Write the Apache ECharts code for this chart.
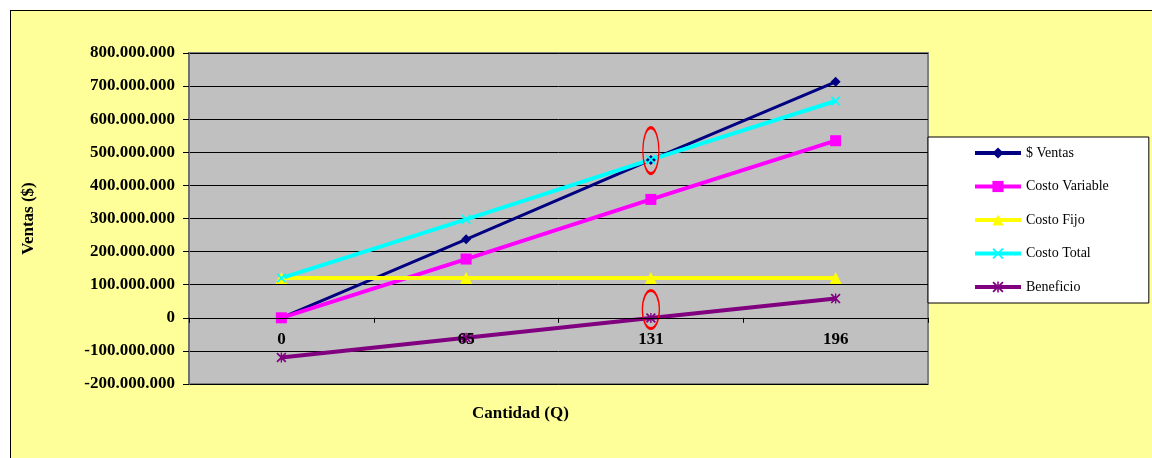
<!DOCTYPE html>
<html>
<head>
<meta charset="utf-8">
<script src="https://cdn.jsdelivr.net/npm/echarts@6/dist/echarts.min.js"></script>
<style>
html,body{margin:0;padding:0;background:#fff;width:1152px;height:458px;overflow:hidden;}
#frame{position:absolute;left:10px;top:10px;width:1160px;height:470px;border:1px solid #000;background:#FFFF99;}
#chart{position:absolute;left:0;top:0;width:1152px;height:458px;}
</style>
</head>
<body>
<div id="frame"></div>
<div id="chart"></div>
<script>
// ---- data ----
const categories = ['0', '65', '131', '196'];
const ventas = [0, 237000000, 477000000, 713000000];
const costoVariable = [0, 177500000, 357600000, 535000000];
const costoFijo = [120000000, 120000000, 120000000, 120000000];
const costoTotal = [120000000, 297500000, 477600000, 655000000];
const beneficio = [-120000000, -60500000, -600000, 58000000];
const seriesNames = ['$ Ventas', 'Costo Variable', 'Costo Fijo', 'Costo Total', 'Beneficio'];
// highlighted points (annotation ellipses): [category, value]
const highlightVentas = ['131', 505000000];
const highlightBeneficio = ['131', 25000000];
const yMin = -200000000, yMax = 800000000, yStep = 100000000;

function fmt(v) {
  const neg = v < 0;
  let s = Math.abs(Math.round(v)).toString().replace(/\B(?=(\d{3})+(?!\d))/g, '.');
  return (neg ? '-' : '') + s;
}

const X_PATH = 'path://M0,1.2L1.2,0L5,3.8L8.8,0L10,1.2L6.2,5L10,8.8L8.8,10L5,6.2L1.2,10L0,8.8L3.8,5Z';
const STAR_PATH = 'path://M0,1.2L1.2,0L5,3.8L8.8,0L10,1.2L6.2,5L10,8.8L8.8,10L5,6.2L1.2,10L0,8.8L3.8,5Z M4.3,0L5.7,0L5.7,10L4.3,10Z';

const serif = '"Liberation Serif", "Times New Roman", serif';
const GRID = {left: 189, right: 224, top: 53, bottom: 74};
const H = 458;

function ellipse(coord, w, h) {
  return {
    symbol: 'circle',
    symbolSize: [w, h],
    silent: true,
    label: {show: false},
    itemStyle: {color: 'rgba(0,0,0,0)', borderColor: '#FF0000', borderWidth: 2},
    data: [{coord: coord}]
  };
}

const chart = echarts.init(document.getElementById('chart'), null, {renderer: 'canvas'});
chart.setOption({
  backgroundColor: 'transparent',
  animation: false,
  title: {
    text: 'Cantidad (Q)',
    left: 472, top: 405,
    padding: 0,
    textStyle: {fontFamily: serif, fontWeight: 'bold', fontSize: 17, color: '#000'}
  },
  legend: {
    orient: 'vertical',
    left: 928, top: 137,
    padding: [9, 40, 9, 45],
    itemWidth: 46, itemHeight: 14, itemGap: 19.5,
    backgroundColor: '#fff', borderColor: '#000', borderWidth: 1,
    lineStyle: {width: 4},
    textStyle: {fontFamily: serif, fontSize: 14, color: '#000', lineHeight: 14},
    data: seriesNames
  },
  grid: {
    left: GRID.left, right: GRID.right, top: GRID.top, bottom: GRID.bottom,
    show: true, backgroundColor: '#C0C0C0', borderColor: '#808080', borderWidth: 2,
    containLabel: false
  },
  xAxis: {
    type: 'category',
    data: categories,
    boundaryGap: true,
    position: 'bottom',
    offset: 0,
    z: 5,
    axisLine: {onZero: false, lineStyle: {color: '#000', width: 1}},
    axisTick: {show: true, alignWithLabel: false, length: 5, lineStyle: {color: '#000'}},
    axisLabel: {margin: 13, fontFamily: serif, fontWeight: 'bold', fontSize: 17, color: '#000'},
    splitLine: {show: false}
  },
  yAxis: {
    type: 'value',
    min: yMin, max: yMax, interval: yStep,
    name: 'Ventas ($)',
    nameLocation: 'middle',
    nameGap: 152,
    nameRotate: 90,
    nameTextStyle: {fontFamily: serif, fontWeight: 'bold', fontSize: 17, color: '#000'},
    axisLine: {show: true, lineStyle: {color: '#707070', width: 2}},
    axisTick: {show: true, length: 6, lineStyle: {color: '#000'}},
    axisLabel: {margin: 14, formatter: fmt, fontFamily: serif, fontWeight: 'bold', fontSize: 17, color: '#000'},
    splitLine: {show: true, lineStyle: {color: '#000', width: 1}}
  },
  series: [
    {name: seriesNames[0], type: 'line', data: ventas, color: '#000080',
     symbol: 'diamond', symbolSize: 10, lineStyle: {width: 3},
     markPoint: ellipse(highlightVentas, 16, 46)},
    {name: seriesNames[1], type: 'line', data: costoVariable, color: '#FF00FF',
     symbol: 'rect', symbolSize: 11, lineStyle: {width: 4}},
    {name: seriesNames[2], type: 'line', data: costoFijo, color: '#FFFF00',
     symbol: 'triangle', symbolSize: 12, lineStyle: {width: 4}},
    {name: seriesNames[3], type: 'line', data: costoTotal, color: '#00FFFF',
     symbol: X_PATH, symbolSize: 10, lineStyle: {width: 4}},
    {name: seriesNames[4], type: 'line', data: beneficio, color: '#800080',
     symbol: STAR_PATH, symbolSize: 10, lineStyle: {width: 4},
     markPoint: ellipse(highlightBeneficio, 17, 38)}
  ]
});
// move the category axis (line, ticks and labels) onto the zero line of the value axis
const zeroPx = chart.convertToPixel({yAxisIndex: 0}, 0);
const gridBottomPx = H - GRID.bottom;
chart.setOption({xAxis: {offset: zeroPx - gridBottomPx}});
</script>
</body>
</html>
